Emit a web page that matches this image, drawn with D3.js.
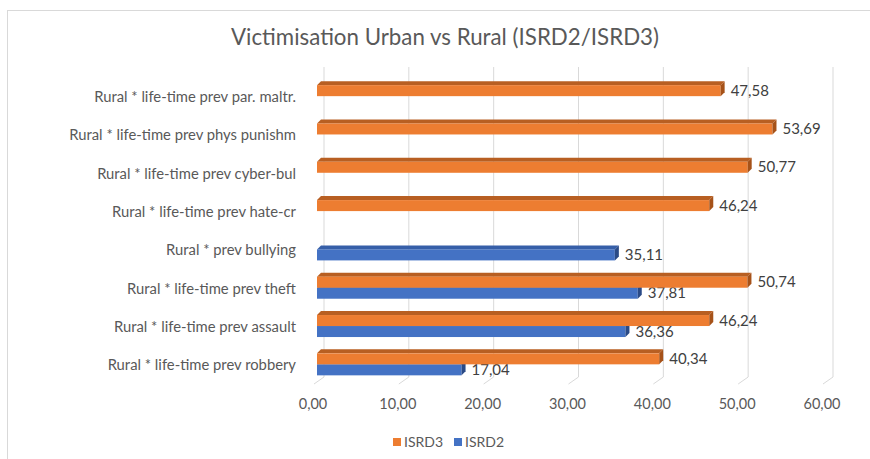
<!DOCTYPE html>
<html>
<head>
<meta charset="utf-8">
<script src="https://cdn.jsdelivr.net/npm/d3@7"></script>
<style>
  html, body { margin: 0; padding: 0; background: #fff; }
  text { font-family: Lato, "Open Sans", sans-serif; }
</style>
</head>
<body>
<div id="chart"></div>
<script>
// data (top row first)
var categories = [
  "Rural * life-time prev par. maltr.",
  "Rural * life-time prev phys punishm",
  "Rural * life-time prev cyber-bul",
  "Rural * life-time prev hate-cr",
  "Rural * prev bullying",
  "Rural * life-time prev theft",
  "Rural * life-time prev assault",
  "Rural * life-time prev robbery"
];
var isrd3 = [47.58, 53.69, 50.77, 46.24, null, 50.74, 46.24, 40.34];
var isrd2 = [null, null, null, null, 35.11, 37.81, 36.36, 17.04];
var seriesNames = ["ISRD3", "ISRD2"];
var tickValues = [0, 10, 20, 30, 40, 50, 60];

var width = 870, height = 459;
var colors = {
  ISRD3: {front: "#ED7D31", top: "#B85F22", side: "#A65219"},
  ISRD2: {front: "#4472C4", top: "#365FA8", side: "#2A4A86"}
};

var loc = d3.formatLocale({decimal: ",", thousands: ".", grouping: [3], currency: ["", ""]});
var fmt = loc.format(".2f");

var svg = d3.select("#chart").append("svg")
  .attr("width", width).attr("height", height);

// outer frame
svg.append("rect")
  .attr("x", 7.5).attr("y", 10.5)
  .attr("width", 880).attr("height", 470)
  .attr("fill", "#fff").attr("stroke", "#d9d9d9").attr("stroke-width", 1);

svg.append("text")
  .attr("x", 445).attr("y", 45)
  .attr("text-anchor", "middle")
  .attr("font-size", 22.3)
  .attr("fill", "#595959")
  .text("Victimisation Urban vs Rural (ISRD2/ISRD3)");

// front face scale; back wall is shifted right by depth
var x = d3.scaleLinear().domain([0, 60]).range([317, 826]);
var backDx = 7;
var y = d3.scaleBand().domain(categories).range([78, 384.5]);
var ys = d3.scaleBand().domain(seriesNames).range([-12, 10]);

// gridlines with their slanted foot
var grid = svg.append("g").attr("stroke", "#d9d9d9").attr("fill", "none");
tickValues.forEach(function(v) {
  var xb = x(v) + backDx;
  grid.append("path")
    .attr("d", "M" + xb + ",67 V377 L" + (xb - 10) + ",384");
});

// tick labels
svg.append("g").selectAll("text")
  .data(tickValues)
  .join("text")
    .attr("x", d => x(d) - 4)
    .attr("y", 409)
    .attr("text-anchor", "middle")
    .attr("font-size", 14.5)
    .attr("fill", "#595959")
    .text(d => fmt(d));

// category labels
svg.append("g").selectAll("text")
  .data(categories)
  .join("text")
    .attr("x", 296)
    .attr("y", d => y(d) + y.bandwidth() / 2 + 5)
    .attr("text-anchor", "end")
    .attr("font-size", 14.8)
    .attr("fill", "#595959")
    .text(d => d);

// bars
var bars = [];
categories.forEach(function(c, i) {
  if (isrd2[i] != null) bars.push({cat: c, key: "ISRD2", value: isrd2[i]});
  if (isrd3[i] != null) bars.push({cat: c, key: "ISRD3", value: isrd3[i]});
});

var dx = 4, dy = 4;
var bg = svg.append("g");
bars.forEach(function(b) {
  var c = y(b.cat) + y.bandwidth() / 2;
  var y0 = c + ys(b.key), h = ys.bandwidth();
  var x0 = x(0), x1 = x(b.value);
  var col = colors[b.key];
  bg.append("polygon")
    .attr("points", [[x0, y0], [x0 + dx, y0 - dy], [x1 + dx, y0 - dy], [x1, y0]].join(" "))
    .attr("fill", col.top);
  bg.append("rect")
    .attr("x", x0).attr("y", y0)
    .attr("width", x1 - x0).attr("height", h)
    .attr("fill", col.front);
  bg.append("polygon")
    .attr("points", [[x1, y0], [x1 + dx, y0 - dy], [x1 + dx, y0 + h - dy], [x1, y0 + h]].join(" "))
    .attr("fill", col.side);
  bg.append("text")
    .attr("x", x1 + dx + 6)
    .attr("y", y0 + h / 2 + 5)
    .attr("font-size", 15)
    .attr("fill", "#404040")
    .text(fmt(b.value));
});

// legend
var legend = svg.append("g").attr("transform", "translate(393,442)");
seriesNames.forEach(function(s, i) {
  var g = legend.append("g").attr("transform", "translate(" + (i * 61) + ",0)");
  g.append("rect").attr("x", 0).attr("y", -4).attr("width", 8).attr("height", 8)
    .attr("fill", colors[s].front);
  g.append("text").attr("x", 11).attr("y", 5)
    .attr("font-size", 14).attr("fill", "#595959").text(s);
});
</script>
</body>
</html>
